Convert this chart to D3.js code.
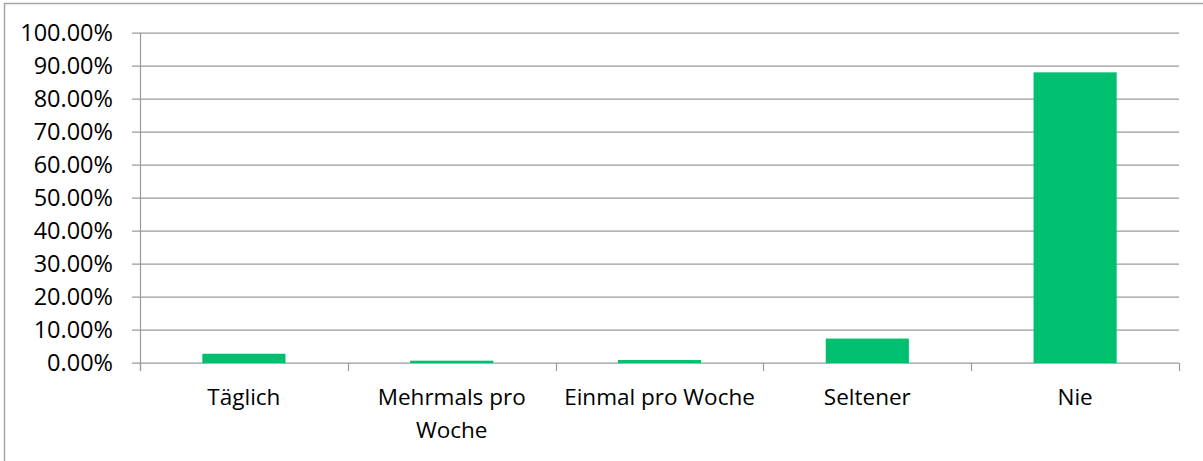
<!DOCTYPE html>
<html lang="de">
<head>
<meta charset="UTF-8">
<title>Häufigkeit</title>
<script src="https://cdn.jsdelivr.net/npm/d3@7"></script>
<style>
  body { margin: 0; background: #fff; }
  text { font-family: "Open Sans", sans-serif; font-size: 22.5px; fill: #000; }
  .ylab { font-size: 23.5px; }
</style>
</head>
<body>
<svg id="chart"></svg>
<script>
// chart data
var categories = ["Täglich", "Mehrmals pro Woche", "Einmal pro Woche", "Seltener", "Nie"];
var values = [0.028, 0.007, 0.009, 0.074, 0.880];
var yTicks = [0, 0.1, 0.2, 0.3, 0.4, 0.5, 0.6, 0.7, 0.8, 0.9, 1.0];

var W = 1203, H = 461;
var margin = {top: 32.7, right: 24, bottom: 98, left: 140};
var width = W - margin.left - margin.right,
    height = H - margin.top - margin.bottom;

var svg = d3.select("#chart").attr("width", W).attr("height", H);

// outer frame (only top + left edges visible in the window)
svg.append("rect")
  .attr("x", 4.5).attr("y", 3.5)
  .attr("width", W + 20).attr("height", H + 20)
  .attr("fill", "none").attr("stroke", "#a6a6a6").attr("stroke-width", 1.5);

var g = svg.append("g")
  .attr("transform", "translate(" + margin.left + "," + margin.top + ")");

var x = d3.scaleBand()
  .domain(categories)
  .range([0, width])
  .paddingInner(0.6)
  .paddingOuter(0.3);

var y = d3.scaleLinear().domain([0, 1]).range([height, 0]);

var gridColor = "#9a9a9a";

// gridlines + y ticks
g.append("g")
  .selectAll("line")
  .data(yTicks)
  .enter().append("line")
  .attr("x1", -8).attr("x2", width)
  .attr("y1", function(d) { return Math.round(y(d)) + 0.5; })
  .attr("y2", function(d) { return Math.round(y(d)) + 0.5; })
  .attr("stroke", gridColor).attr("stroke-width", 1.2);

g.append("g")
  .selectAll("text")
  .data(yTicks)
  .enter().append("text")
  .attr("class", "ylab")
  .attr("x", -27)
  .attr("y", function(d) { return y(d); })
  .attr("dy", "0.36em")
  .attr("text-anchor", "end")
  .text(function(d) { return d3.format(".2%")(d); });

// y axis line
g.append("line")
  .attr("x1", 0.5).attr("x2", 0.5)
  .attr("y1", y(1)).attr("y2", height + 8)
  .attr("stroke", gridColor).attr("stroke-width", 1.2);

// bars
g.append("g")
  .selectAll("rect")
  .data(values)
  .enter().append("rect")
  .attr("x", function(d, i) { return x(categories[i]); })
  .attr("width", x.bandwidth())
  .attr("y", function(d) { return y(d); })
  .attr("height", function(d) { return height - y(d); })
  .attr("fill", "#00bf6f");

// category boundary ticks
var step = x.step();
g.append("g")
  .selectAll("line")
  .data(d3.range(categories.length + 1))
  .enter().append("line")
  .attr("x1", function(i) { return Math.round(i * step) + 0.5; })
  .attr("x2", function(i) { return Math.round(i * step) + 0.5; })
  .attr("y1", height).attr("y2", height + 8)
  .attr("stroke", gridColor).attr("stroke-width", 1.2);

// category labels, wrapped to the category width
var labels = g.append("g")
  .selectAll("text")
  .data(categories)
  .enter().append("text")
  .attr("text-anchor", "middle")
  .attr("transform", function(d) {
    return "translate(" + (x(d) + x.bandwidth() / 2) + "," + (height + 42) + ")";
  });

labels.each(function(d) {
  var t = d3.select(this);
  var words = d.split(" "), line = [], lineNo = 0;
  var tspan = t.append("tspan").attr("x", 0).attr("y", 0);
  words.forEach(function(w) {
    line.push(w);
    tspan.text(line.join(" "));
    if (tspan.node().getComputedTextLength() > step - 4 && line.length > 1) {
      line.pop();
      tspan.text(line.join(" "));
      line = [w];
      lineNo++;
      tspan = t.append("tspan").attr("x", 0).attr("y", lineNo * 33).text(w);
    }
  });
});
</script>
</body>
</html>
